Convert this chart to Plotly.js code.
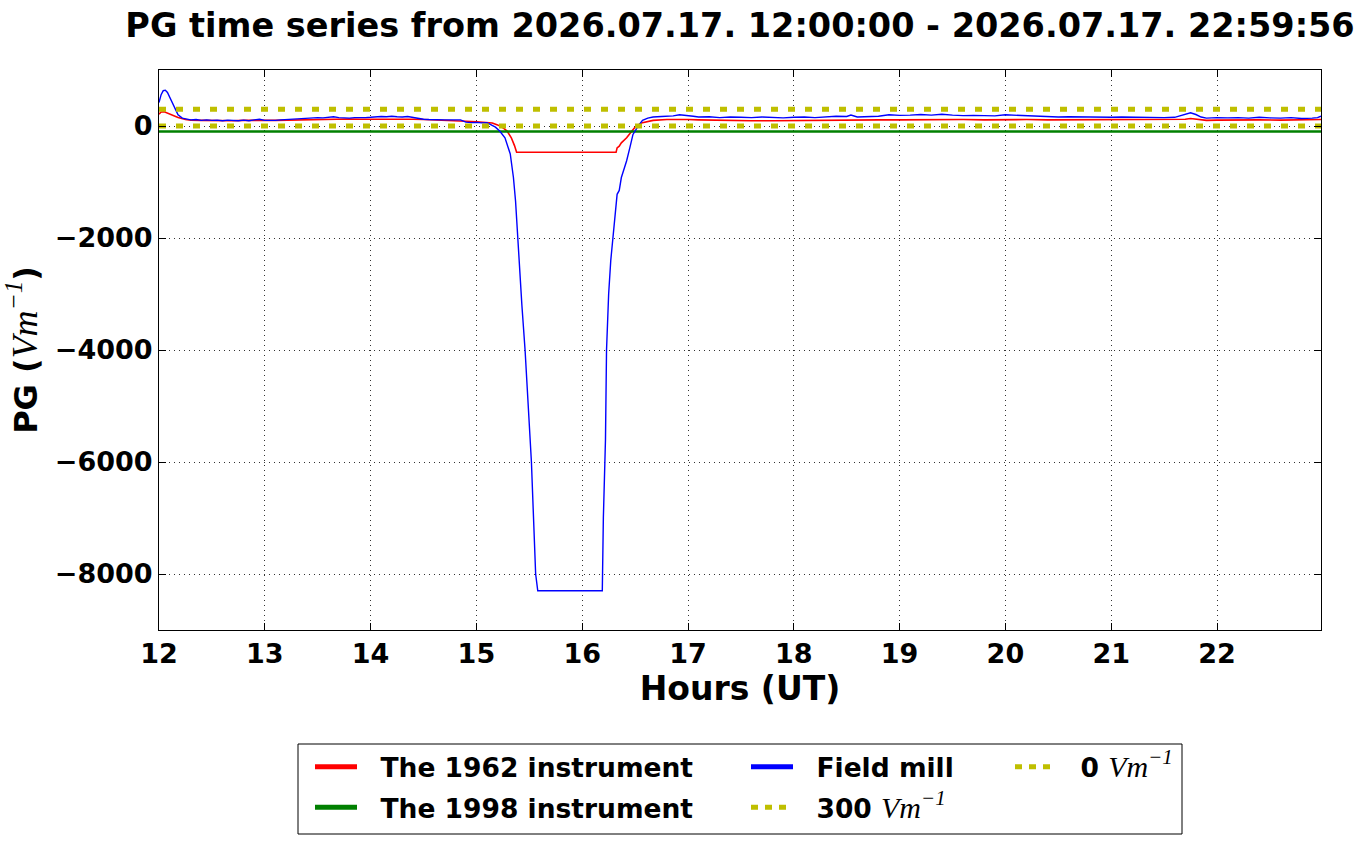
<!DOCTYPE html>
<html>
<head>
<meta charset="utf-8">
<script src="https://cdn.plot.ly/plotly-3.0.1.min.js"></script>
<style>
html, body { margin: 0; padding: 0; background: #fff; }
#chart { width: 1361px; height: 844px; }
</style>
</head>
<body>
<div id="chart"></div>
<script>
// ---- Data ----
const chartTitle = "PG time series from 2026.07.17. 12:00:00 - 2026.07.17. 22:59:56";

const xTickValues = [12, 13, 14, 15, 16, 17, 18, 19, 20, 21, 22];
const yTickValues = [0, -2000, -4000, -6000, -8000];

// The 1962 instrument (red)
const hours1962 = [12.00, 12.02, 12.05, 12.08, 12.12, 12.18, 12.25, 12.30, 12.40, 12.50, 12.60, 12.70, 12.80, 12.90, 13.00, 13.10, 13.20, 13.30, 13.40, 13.50, 13.60, 13.70, 13.80, 13.90, 14.00, 14.10, 14.20, 14.30, 14.40, 14.50, 14.60, 14.70, 14.80, 14.90, 15.00, 15.10, 15.15, 15.20, 15.25, 15.29, 15.33, 15.36, 15.38, 15.50, 15.70, 15.90, 16.10, 16.32, 16.33, 16.35, 16.37, 16.42, 16.47, 16.51, 16.57, 16.67, 16.80, 16.90, 17.00, 17.10, 17.20, 17.40, 17.60, 17.80, 18.00, 18.20, 18.40, 18.60, 18.80, 19.00, 19.20, 19.40, 19.60, 19.80, 20.00, 20.20, 20.40, 20.60, 20.80, 21.00, 21.20, 21.40, 21.60, 21.70, 21.75, 21.80, 21.90, 22.00, 22.20, 22.40, 22.60, 22.80, 22.983];
const pg1962 = [210, 250, 255, 230, 190, 150, 115, 105, 100, 95, 100, 95, 100, 95, 100, 100, 105, 110, 115, 120, 125, 120, 125, 120, 120, 125, 130, 125, 120, 115, 110, 105, 100, 85, 75, 65, 55, 20, -30, -90, -210, -350, -470, -470, -470, -470, -470, -470, -390, -360, -300, -210, -90, 0, 60, 100, 115, 120, 115, 110, 105, 100, 95, 95, 100, 100, 105, 110, 110, 110, 115, 115, 115, 110, 115, 115, 110, 110, 110, 115, 115, 115, 110, 120, 135, 120, 100, 105, 110, 110, 105, 110, 115];

// The 1998 instrument (green)
const hours1998 = [12.0, 22.983];
const pg1998 = [-100, -100];

// Field mill (blue)
const hoursMill = [12.00, 12.02, 12.04, 12.06, 12.08, 12.10, 12.12, 12.15, 12.18, 12.22, 12.26, 12.30, 12.35, 12.40, 12.45, 12.50, 12.55, 12.60, 12.65, 12.70, 12.75, 12.80, 12.85, 12.90, 12.95, 13.00, 13.05, 13.10, 13.15, 13.20, 13.25, 13.30, 13.35, 13.40, 13.45, 13.50, 13.55, 13.60, 13.65, 13.70, 13.75, 13.80, 13.85, 13.90, 13.95, 14.00, 14.05, 14.10, 14.15, 14.20, 14.25, 14.30, 14.35, 14.40, 14.45, 14.50, 14.55, 14.60, 14.65, 14.70, 14.75, 14.80, 14.85, 14.90, 14.95, 15.00, 15.05, 15.10, 15.13, 15.18, 15.22, 15.27, 15.32, 15.35, 15.37, 15.39, 15.41, 15.43, 15.46, 15.48, 15.50, 15.52, 15.54, 15.56, 15.58, 16.19, 16.20, 16.22, 16.23, 16.25, 16.27, 16.29, 16.31, 16.33, 16.35, 16.37, 16.40, 16.42, 16.45, 16.48, 16.53, 16.57, 16.62, 16.67, 16.75, 16.86, 16.92, 17.00, 17.05, 17.10, 17.20, 17.30, 17.40, 17.50, 17.60, 17.70, 17.80, 17.90, 18.00, 18.10, 18.20, 18.30, 18.40, 18.50, 18.54, 18.60, 18.70, 18.80, 18.90, 19.00, 19.10, 19.20, 19.30, 19.40, 19.50, 19.60, 19.70, 19.80, 19.90, 20.00, 20.10, 20.20, 20.30, 20.40, 20.50, 20.60, 20.70, 20.80, 20.90, 21.00, 21.10, 21.20, 21.30, 21.40, 21.50, 21.60, 21.70, 21.75, 21.80, 21.85, 21.90, 22.00, 22.10, 22.20, 22.30, 22.40, 22.50, 22.60, 22.70, 22.80, 22.90, 22.95, 22.983];
const pgMill = [420, 560, 630, 640, 600, 520, 420, 300, 200, 140, 120, 110, 115, 100, 110, 100, 105, 95, 105, 100, 95, 105, 95, 110, 120, 100, 95, 100, 110, 115, 120, 135, 130, 145, 140, 150, 145, 160, 165, 150, 145, 140, 150, 145, 150, 155, 165, 170, 165, 175, 165, 160, 170, 150, 130, 120, 115, 110, 105, 110, 110, 105, 110, 70, 60, 65, 55, 60, 30, -20, -90, -210, -500, -920, -1340, -2000, -2500, -3200, -4000, -4700, -5300, -6000, -7000, -8000, -8300, -8300, -7000, -5600, -4000, -3000, -2400, -2000, -1700, -1220, -1150, -920, -740, -620, -390, -150, 0, 100, 140, 160, 170, 180, 200, 190, 175, 160, 165, 150, 160, 155, 150, 160, 150, 145, 155, 160, 150, 165, 175, 170, 195, 160, 170, 175, 200, 190, 195, 205, 195, 210, 195, 185, 190, 185, 180, 200, 190, 180, 170, 165, 160, 165, 160, 155, 160, 155, 160, 155, 155, 150, 150, 155, 200, 235, 205, 160, 140, 150, 145, 150, 140, 155, 145, 140, 150, 135, 140, 150, 175];

// Reference levels
const refHours = [12.0, 22.983];
const level300 = [300, 300];
const level0 = [0, 0];

// ---- Styles ----
const RED = '#ff0000', GREEN = '#008000', BLUE = '#0000ff', YEL = '#bfbf00';
const FONT = 'DejaVu Sans, Liberation Sans, sans-serif';
function unit(size) {
  return '<span style="font-family:\'Liberation Serif\',serif;font-weight:normal;font-style:italic;font-size:' + size + 'px">Vm<sup>\u22121</sup></span>';
}
const PAD = '\u00a0\u00a0';

const dataTraces = [
  {x: hours1962, y: pg1962, type: 'scatter', mode: 'lines', line: {color: RED, width: 1.6}, showlegend: false, hoverinfo: 'skip'},
  {x: hours1998, y: pg1998, type: 'scatter', mode: 'lines', line: {color: GREEN, width: 2.5}, showlegend: false, hoverinfo: 'skip'},
  {x: hoursMill, y: pgMill, type: 'scatter', mode: 'lines', line: {color: BLUE, width: 1.4}, showlegend: false, hoverinfo: 'skip'},
  {x: refHours, y: level300, type: 'scatter', mode: 'lines', line: {color: YEL, width: 5, dash: '7px,10px'}, showlegend: false, hoverinfo: 'skip'},
  {x: refHours, y: level0, type: 'scatter', mode: 'lines', line: {color: YEL, width: 5, dash: '7px,10px'}, showlegend: false, hoverinfo: 'skip'}
];

// legend-only entries (no data drawn)
function legendEntry(name, color, dash, legend, group) {
  return {x: [null], y: [null], type: 'scatter', mode: 'lines', name: PAD + name,
          line: {color: color, width: 5, dash: dash}, legend: legend, legendgroup: group, hoverinfo: 'skip'};
}
const legendTraces = [
  legendEntry('The 1962 instrument', RED, 'solid', 'legend', 'a'),
  legendEntry('The 1998 instrument', GREEN, 'solid', 'legend', 'b'),
  legendEntry('Field mill', BLUE, 'solid', 'legend2', 'c'),
  legendEntry('300 ' + unit(30), YEL, '7px,7px', 'legend2', 'd'),
  legendEntry('0 ' + unit(30), YEL, '7px,7px', 'legend3', 'e')
];

const W = 1361, H = 844, L = 159, R = 40, T = 70, B = 214;
const pw = W - L - R, ph = H - T - B;
const px = v => (v - L) / pw;
const py = v => (H - B - v) / ph;

const legFont = {family: FONT, size: 26.5, color: '#000', weight: 'bold'};
function legendBox(xpix, ypix) {
  return {x: px(xpix), y: py(ypix), xref: 'paper', yref: 'paper', xanchor: 'left', yanchor: 'top',
          orientation: 'v', bgcolor: 'rgba(0,0,0,0)', borderwidth: 0, font: legFont,
          itemwidth: 42, tracegroupgap: 3, traceorder: 'grouped'};
}

const axisCommon = {
  showline: true, linecolor: '#000', linewidth: 1, mirror: 'ticks',
  ticks: 'inside', ticklen: 7, tickwidth: 1, tickcolor: '#000',
  showgrid: true, gridcolor: '#333', gridwidth: 1, griddash: '1px,4px',
  zeroline: false,
  tickfont: {family: FONT, size: 27, color: '#000', weight: 'bold'}
};

const layout = {
  width: W, height: H,
  margin: {l: L, r: R, t: T, b: B, autoexpand: false},
  paper_bgcolor: '#fff', plot_bgcolor: '#fff',
  font: {family: FONT, color: '#000'},
  title: {text: chartTitle, font: {family: FONT, size: 33.5, color: '#000', weight: 'bold'},
          xref: 'paper', x: 0.5, xanchor: 'center', yref: 'container', y: 1 - 25 / H, yanchor: 'middle'},
  xaxis: Object.assign({}, axisCommon, {
    range: [12, 22.983], tickmode: 'array', tickvals: xTickValues,
    title: {text: 'Hours (UT)', font: {family: FONT, size: 33, color: '#000', weight: 'bold'}, standoff: 6}
  }),
  yaxis: Object.assign({}, axisCommon, {
    range: [-9000, 1000], tickmode: 'array', tickvals: yTickValues,
    title: {text: 'PG (' + unit(36) + ')', font: {family: FONT, size: 32, color: '#000', weight: 'bold'}, standoff: 10}
  }),
  legend: legendBox(310, 743),
  legend2: legendBox(746, 743),
  legend3: legendBox(1010, 743),
  shapes: [{type: 'rect', xref: 'paper', yref: 'paper', x0: px(298), x1: px(1182), y0: py(744), y1: py(834),
            line: {color: '#000', width: 1}, fillcolor: 'rgba(0,0,0,0)', layer: 'above'}]
};

Plotly.newPlot('chart', dataTraces.concat(legendTraces), layout, {staticPlot: true, displayModeBar: false});
</script>
</body>
</html>
